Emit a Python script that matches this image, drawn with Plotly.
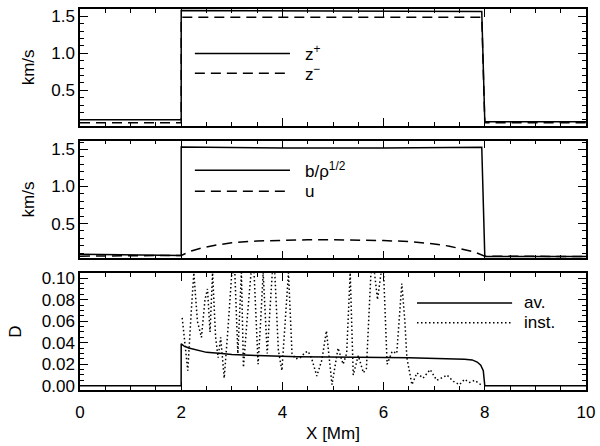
import plotly.graph_objects as go
from plotly.subplots import make_subplots

# panel 1: Elsasser variables (km/s)
x_z = [0, 2.0, 2.0, 7.94, 8.0, 10]
z_plus = [0.10, 0.10, 1.58, 1.565, 0.075, 0.075]
z_minus = [0.06, 0.06, 1.49, 1.49, 0.06, 0.06]

# panel 2: Alfven speed b/rho^1/2 and flow u (km/s)
x_b = [0, 2.0, 2.0, 4.0, 6.0, 7.94, 8.0, 10]
b_rho = [0.085, 0.07, 1.535, 1.52, 1.52, 1.53, 0.056, 0.056]
x_u = [0, 2.0, 2.2, 2.4, 2.7, 3.0, 3.5, 4.0, 4.5, 5.0, 5.5, 6.0, 6.5, 7.0, 7.3, 7.6, 7.8, 8.0, 10]
u = [0.06, 0.07, 0.13, 0.17, 0.21, 0.24, 0.265, 0.275, 0.28, 0.28, 0.278, 0.27, 0.258, 0.225, 0.195, 0.15, 0.115, 0.06, 0.055]

# panel 3: D, averaged and instantaneous
x_av = [0, 1.999, 2.0, 2.05, 2.15, 2.3, 2.5, 2.8, 3.0, 3.5, 4.3, 5.5, 6.5, 7.6, 7.75, 7.85, 7.92, 7.97, 8.0, 10]
d_av = [0, 0, 0.039, 0.037, 0.035, 0.033, 0.031, 0.030, 0.029, 0.028, 0.027, 0.0265, 0.026, 0.0245,
        0.024, 0.022, 0.019, 0.014, 0.0, 0.0]
x_inst = [2.02, 2.06, 2.13, 2.20, 2.25, 2.32, 2.40, 2.47, 2.52, 2.57, 2.62, 2.68, 2.73, 2.78, 2.85,
          2.92, 3.00, 3.06, 3.12, 3.19, 3.23, 3.30, 3.38, 3.44, 3.52, 3.57, 3.62, 3.70, 3.80, 3.85,
          3.92, 3.99, 4.05, 4.12, 4.19, 4.26, 4.35, 4.45, 4.51, 4.58, 4.68, 4.78, 4.87, 4.92, 4.98,
          5.10, 5.20, 5.27, 5.34, 5.40, 5.50, 5.60, 5.66, 5.75, 5.82, 5.88, 5.95, 6.00, 6.07, 6.17,
          6.26, 6.36, 6.42, 6.46, 6.52, 6.56, 6.66, 6.78, 6.92, 7.05, 7.18, 7.25, 7.38, 7.50, 7.60,
          7.70, 7.80, 7.92]
d_inst = [0.063, 0.045, 0.014, 0.07, 0.105, 0.06, 0.045, 0.08, 0.09, 0.05, 0.105, 0.045, 0.026, 0.045, 0.007,
          0.05, 0.105, 0.105, 0.03, 0.105, 0.017, 0.06, 0.105, 0.105, 0.02, 0.06, 0.105, 0.03, 0.105, 0.105,
          0.033, 0.014, 0.06, 0.105, 0.03, 0.025, 0.026, 0.031, 0.032, 0.025, 0.009, 0.024, 0.051, 0.03, 0.001,
          0.035, 0.02, 0.03, 0.105, 0.01, 0.028, 0.012, 0.016, 0.105, 0.105, 0.08, 0.105, 0.105, 0.02, 0.032,
          0.03, 0.095, 0.06, 0.026, 0.01, 0.001, 0.012, 0.007, 0.015, 0.005, 0.008, 0.01, 0.004, 0.001, 0.006,
          0.003, 0.005, 0.001]

FONT = "Liberation Sans, Arial, sans-serif"
FS = 17
LW = 1.5
DASH = "10px,6px"
DOT = "1.5px,2.5px"

fig = make_subplots(rows=3, cols=1, shared_xaxes=True)

fig.add_trace(go.Scatter(x=x_z, y=z_plus, mode="lines", line=dict(color="black", width=LW)), row=1, col=1)
fig.add_trace(go.Scatter(x=x_z, y=z_minus, mode="lines",
                         line=dict(color="black", width=LW, dash=DASH)), row=1, col=1)
fig.add_trace(go.Scatter(x=x_b, y=b_rho, mode="lines", line=dict(color="black", width=LW)), row=2, col=1)
fig.add_trace(go.Scatter(x=x_u, y=u, mode="lines",
                         line=dict(color="black", width=LW, dash=DASH)), row=2, col=1)
fig.add_trace(go.Scatter(x=x_av, y=d_av, mode="lines", line=dict(color="black", width=LW)), row=3, col=1)
fig.add_trace(go.Scatter(x=x_inst, y=d_inst, mode="lines",
                         line=dict(color="black", width=1.5, dash=DOT)), row=3, col=1)

axis_common = dict(showgrid=False, zeroline=False, showline=True, linecolor="black", linewidth=1.5,
                   mirror="allticks", ticks="inside", tickcolor="black", tickwidth=1,
                   tickfont=dict(family=FONT, size=FS, color="black"))

for r in (1, 2, 3):
    fig.update_xaxes(range=[0, 10], dtick=2, ticklen=8, ticklabelstandoff=6,
                     minor=dict(dtick=0.5, ticks="inside", ticklen=4, tickcolor="black"),
                     showticklabels=(r == 3), row=r, col=1, **axis_common)

fig.update_yaxes(range=[0.02, 1.60], tickvals=[0.5, 1.0, 1.5], tickformat=".1f", ticklen=8,
                 minor=dict(dtick=0.1, ticks="inside", ticklen=4, tickcolor="black"),
                 domain=[0.6935, 1.0], row=1, col=1, **axis_common)
fig.update_yaxes(range=[0.03, 1.62], tickvals=[0.5, 1.0, 1.5], tickformat=".1f", ticklen=8,
                 minor=dict(dtick=0.1, ticks="inside", ticklen=4, tickcolor="black"),
                 domain=[0.3455, 0.6545], row=2, col=1, **axis_common)
fig.update_yaxes(range=[-0.004, 0.1046], dtick=0.02, tickformat=".2f", ticklen=8,
                 minor=dict(dtick=0.005, ticks="inside", ticklen=4, tickcolor="black"),
                 domain=[0.0, 0.3065], row=3, col=1, **axis_common)

title_font = dict(family=FONT, size=FS, color="black")
fig.update_xaxes(title=dict(text="X [Mm]", font=title_font, standoff=6), row=3, col=1)
fig.update_yaxes(title=dict(text="km/s", font=title_font, standoff=12), row=1, col=1)
fig.update_yaxes(title=dict(text="km/s", font=title_font, standoff=12), row=2, col=1)
fig.update_yaxes(title=dict(text="D", font=title_font, standoff=16), row=3, col=1)

# hand-drawn legends inside each panel (as in the original)
legends = [
    ("x", "y", [("z<sup>+</sup>", "solid"), ("z<sup>\u2212</sup>", DASH)], 0.227, 0.415, 0.44, [0.619, 0.449]),
    ("x2", "y2", [("b/\u03c1<sup>1/2</sup>", "solid"), ("u", DASH)], 0.227, 0.415, 0.44, [0.748, 0.571]),
    ("x3", "y3", [("av.", "solid"), ("inst.", DOT)], 0.666, 0.854, 0.874, [0.746, 0.576]),
]
for xr, yr, items, x0, x1, xt, ys in legends:
    for (label, dash), yy in zip(items, ys):
        fig.add_shape(type="line", xref=xr + " domain", yref=yr + " domain", x0=x0, x1=x1, y0=yy, y1=yy,
                      line=dict(color="black", width=LW, dash=dash))
        fig.add_annotation(xref=xr + " domain", yref=yr + " domain", x=xt, y=yy, text=label,
                           showarrow=False, xanchor="left", yanchor="middle",
                           font=dict(family=FONT, size=FS, color="black"))

fig.update_layout(width=600, height=446, margin=dict(l=80, r=14, t=5, b=56),
                  paper_bgcolor="white", plot_bgcolor="white", showlegend=False)

fig.write_html("out.html", config={"displayModeBar": False},
               post_script="document.body.style.margin='0';document.documentElement.style.margin='0';")
